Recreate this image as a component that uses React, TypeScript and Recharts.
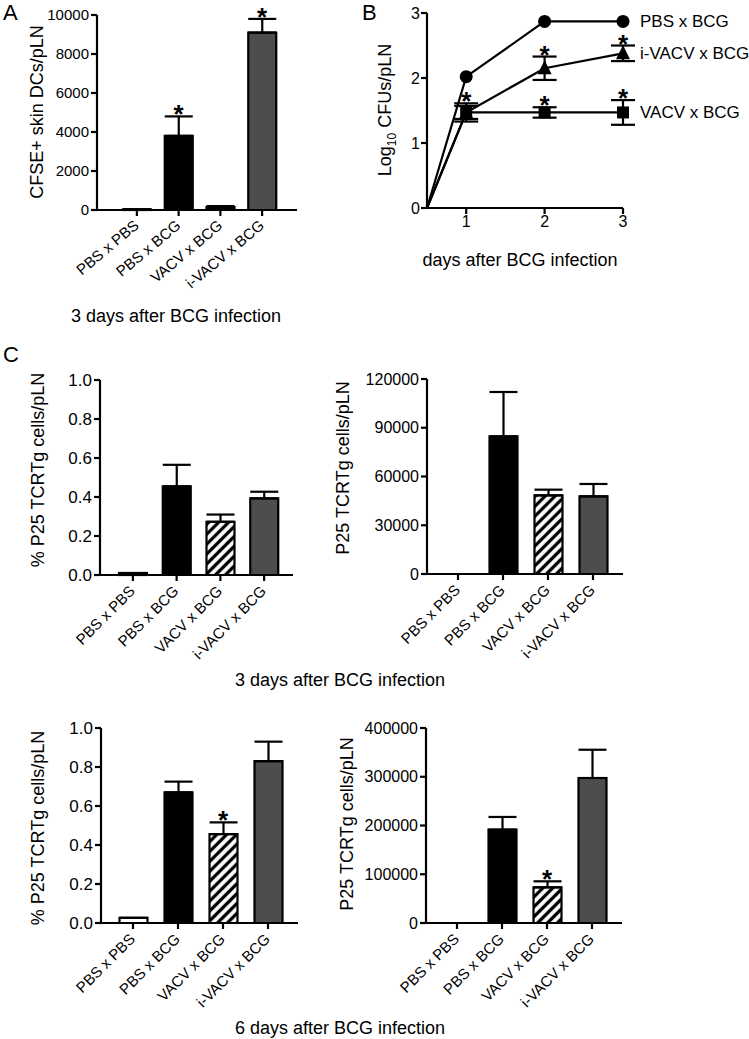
import React from 'react';
import { ComposedChart, Bar, Cell, Line, Scatter, XAxis, YAxis, ErrorBar } from 'recharts';

const FONT = '"Liberation Sans", Arial, Helvetica, sans-serif';

const groups = ['PBS x PBS', 'PBS x BCG', 'VACV x BCG', 'i-VACV x BCG'];

// A: CFSE+ skin DCs, 3 days
const dcMean = [30, 3800, 150, 9100];
const dcErr = [10, 1000, 50, 700];
const dcStar = [false, true, false, true];
const dcTicks = [0, 2000, 4000, 6000, 8000, 10000];

// B: CFUs over time
const days = [0.5, 1, 2, 3];
const pbsBcg = [0, 2.02, 2.87, 2.87];
const ivacvBcg = [0, 1.47, 2.15, 2.38];
const vacvBcg = [0, 1.47, 1.47, 1.47];
const ivacvErr = [null, 0.1, 0.18, 0.12];
const vacvErr = [null, 0.14, 0.08, 0.19];
const ivacvStar = [false, false, true, true];
const vacvStar = [false, true, true, true];
const cfuTicks = [0, 1, 2, 3];
const dayTicks = [1, 2, 3];
const lineNames = ['PBS x BCG', 'i-VACV x BCG', 'VACV x BCG'];

// C: P25 TCRTg, 3 days
const pct3Mean = [0.01, 0.455, 0.273, 0.393];
const pct3Err = [0, 0.11, 0.037, 0.034];
const abs3Mean = [0, 84700, 48400, 47800];
const abs3Err = [0, 27300, 3500, 7600];
// C: P25 TCRTg, 6 days
const pct6Mean = [0.026, 0.67, 0.456, 0.83];
const pct6Err = [0, 0.055, 0.06, 0.1];
const abs6Mean = [0, 191500, 73200, 297400];
const abs6Err = [0, 26000, 12300, 58000];
const star6 = [false, false, true, false];
const noStar = [false, false, false, false];

const pctTicks = [0, 0.2, 0.4, 0.6, 0.8, 1.0];
const abs3Ticks = [0, 30000, 60000, 90000, 120000];
const abs6Ticks = [0, 100000, 200000, 300000, 400000];

const GREY = '#4d4d4d';
const fillsA = ['#fff', '#000', '#000', GREY];
const fillsC = ['#fff', '#000', 'hatch', GREY];

const axisStyle = { stroke: '#000', strokeWidth: 2.2 };

const makeRotTick = (angle: number) => (p: any) => {
  const x = p.x + 3;
  const y = p.y + 9;
  return (
    <text x={x} y={y} transform={`rotate(${angle} ${x} ${y})`} textAnchor="end" fontSize={15} fill="#000" fontFamily={FONT}>
      {p.payload.value}
    </text>
  );
};
const RotTickA = makeRotTick(-40);
const RotTickC = makeRotTick(-45);

const StarShape = (p: any) =>
  p.payload && p.payload.star ? (
    <text x={p.cx} y={p.cy + 7} textAnchor="middle" fontSize={26} fontWeight="bold" fill="#000" fontFamily={FONT}>
      *
    </text>
  ) : (
    <g />
  );

function BarPanel(props: any) {
  const { id, mean, err, star, ticks, fills, left, top, width, height, plotLeft, plotTop, plotRight, plotBottom, pad, fmt, tickFont, Tick } =
    props;
  const data = groups.map((name, i) => ({
    name,
    mean: mean[i],
    err: [0, err[i]],
    starY: mean[i] + err[i],
    star: star[i],
  }));
  return (
    <div style={{ position: 'absolute', left, top }}>
      <ComposedChart
        width={width}
        height={height}
        data={data}
        margin={{ top: plotTop, right: width - plotRight, bottom: 0, left: 0 }}
      >
        <defs>
          <pattern id={id} width="7" height="7" patternUnits="userSpaceOnUse" patternTransform="rotate(45)">
            <rect width="7" height="7" fill="#fff" />
            <line x1="3.5" y1="0" x2="3.5" y2="7" stroke="#000" strokeWidth="3.3" />
          </pattern>
        </defs>
        <XAxis
          dataKey="name"
          type="category"
          interval={0}
          height={height - plotBottom}
          padding={pad}
          axisLine={axisStyle}
          tickLine={axisStyle}
          tickSize={6}
          tick={<Tick />}
        />
        <YAxis
          width={plotLeft}
          domain={[ticks[0], ticks[ticks.length - 1]]}
          ticks={ticks}
          interval={0}
          axisLine={axisStyle}
          tickLine={axisStyle}
          tickSize={6}
          tickMargin={2}
          tick={{ fill: '#000', fontSize: tickFont, fontFamily: FONT }}
          tickFormatter={fmt}
        />
        <Bar dataKey="mean" barSize={28} stroke="#000" strokeWidth={2.2} isAnimationActive={false}>
          {data.map((d, i) => (
            <Cell key={d.name} fill={fills[i] === 'hatch' ? `url(#${id})` : fills[i]} />
          ))}
          <ErrorBar dataKey="err" direction="y" width={14} stroke="#000" strokeWidth={2.2} />
        </Bar>
        <Scatter dataKey="starY" shape={StarShape} isAnimationActive={false} />
      </ComposedChart>
    </div>
  );
}

const circleDot = (p: any) =>
  p.index === 0 ? <g key={`c${p.index}`} /> : <circle key={`c${p.index}`} cx={p.cx} cy={p.cy} r={6.5} fill="#000" />;
const triDot = (p: any) =>
  p.index === 0 ? (
    <g key={`t${p.index}`} />
  ) : (
    <polygon key={`t${p.index}`} points={`${p.cx},${p.cy - 8} ${p.cx - 7},${p.cy + 6} ${p.cx + 7},${p.cy + 6}`} fill="#000" />
  );
const sqDot = (p: any) =>
  p.index === 0 ? <g key={`s${p.index}`} /> : <rect key={`s${p.index}`} x={p.cx - 6} y={p.cy - 6} width={12} height={12} fill="#000" />;

const NameShape = (p: any) => (
  <text x={p.cx + 17} y={p.cy} dominantBaseline="central" fontSize={17} fill="#000" fontFamily={FONT}>
    {p.payload.name}
  </text>
);

function LinePanel() {
  const data = days.map((day, i) => ({
    day,
    pbs: pbsBcg[i],
    ivacv: ivacvBcg[i],
    vacv: vacvBcg[i],
    ivacvErr: ivacvErr[i],
    vacvErr: vacvErr[i],
  }));
  const stars = [
    ...data.filter((d, i) => ivacvStar[i]).map((d) => ({ day: d.day, y: d.ivacv + (d.ivacvErr || 0), star: true })),
    ...data.filter((d, i) => vacvStar[i]).map((d) => ({ day: d.day, y: d.vacv + (d.vacvErr || 0), star: true })),
  ];
  const last = data[data.length - 1];
  const names = [
    { day: last.day, y: last.pbs, name: lineNames[0] },
    { day: last.day, y: last.ivacv, name: lineNames[1] },
    { day: last.day, y: last.vacv, name: lineNames[2] },
  ];
  return (
    <div style={{ position: 'absolute', left: 370, top: 0 }}>
      <ComposedChart width={379} height={280} data={data} margin={{ top: 13, right: 126, bottom: 0, left: 0 }}>
        <XAxis
          dataKey="day"
          type="number"
          domain={[0.5, 3]}
          ticks={dayTicks}
          height={72}
          axisLine={axisStyle}
          tickLine={axisStyle}
          tickSize={6}
          tickMargin={2}
          tick={{ fill: '#000', fontSize: 16, fontFamily: FONT }}
        />
        <YAxis
          width={57}
          domain={[0, 3]}
          ticks={cfuTicks}
          axisLine={axisStyle}
          tickLine={axisStyle}
          tickSize={6}
          tickMargin={1}
          tick={{ fill: '#000', fontSize: 16, fontFamily: FONT }}
        />
        <Line dataKey="pbs" type="linear" stroke="#000" strokeWidth={2.2} dot={circleDot} isAnimationActive={false} />
        <Line dataKey="ivacv" type="linear" stroke="#000" strokeWidth={2.2} dot={triDot} isAnimationActive={false}>
          <ErrorBar dataKey="ivacvErr" direction="y" width={12} stroke="#000" strokeWidth={2.2} />
        </Line>
        <Line dataKey="vacv" type="linear" stroke="#000" strokeWidth={2.2} dot={sqDot} isAnimationActive={false}>
          <ErrorBar dataKey="vacvErr" direction="y" width={12} stroke="#000" strokeWidth={2.2} />
        </Line>
        <Scatter data={stars} dataKey="y" shape={StarShape} isAnimationActive={false} />
        <Scatter data={names} dataKey="y" shape={NameShape} isAnimationActive={false} />
      </ComposedChart>
    </div>
  );
}

const Txt = ({ x, y, rotate, size = 18, children }: any) => (
  <div
    style={{
      position: 'absolute',
      left: x,
      top: y,
      transform: `translate(-50%, -50%)${rotate ? ' rotate(-90deg)' : ''}`,
      fontSize: size,
      lineHeight: 1,
      whiteSpace: 'nowrap',
      color: '#000',
    }}
  >
    {children}
  </div>
);

const Letter = ({ x, y, children }: any) => (
  <div style={{ position: 'absolute', left: x, top: y, fontSize: 22, lineHeight: 1, color: '#000' }}>{children}</div>
);

const fmt1 = (v: number) => v.toFixed(1);
const fmt0 = (v: number) => String(v);

export default function App() {
  return (
    <div
      style={{
        position: 'absolute',
        left: 0,
        top: 0,
        width: 749,
        height: 1039,
        background: '#fff',
        fontFamily: FONT,
        overflow: 'hidden',
      }}
    >
      <BarPanel
        id="hA"
        mean={dcMean}
        err={dcErr}
        star={dcStar}
        ticks={dcTicks}
        fills={fillsA}
        left={0}
        top={0}
        width={380}
        height={330}
        plotLeft={97}
        plotTop={15}
        plotRight={297}
        plotBottom={210}
        pad={{ left: 19, right: 14 }}
        fmt={fmt0}
        tickFont={15}
        Tick={RotTickA}
      />
      <LinePanel />
      <BarPanel
        id="hC1"
        mean={pct3Mean}
        err={pct3Err}
        star={noStar}
        ticks={pctTicks}
        fills={fillsC}
        left={0}
        top={340}
        width={380}
        height={330}
        plotLeft={100}
        plotTop={40}
        plotRight={293}
        plotBottom={235}
        pad={{ left: 11, right: 7 }}
        fmt={fmt1}
        tickFont={17}
        Tick={RotTickC}
      />
      <BarPanel
        id="hC2"
        mean={abs3Mean}
        err={abs3Err}
        star={noStar}
        ticks={abs3Ticks}
        fills={fillsC}
        left={330}
        top={340}
        width={419}
        height={330}
        plotLeft={97}
        plotTop={39}
        plotRight={293}
        plotBottom={234}
        pad={{ left: 8.5, right: 7.5 }}
        fmt={fmt0}
        tickFont={16}
        Tick={RotTickC}
      />
      <BarPanel
        id="hC3"
        mean={pct6Mean}
        err={pct6Err}
        star={star6}
        ticks={pctTicks}
        fills={fillsC}
        left={0}
        top={690}
        width={380}
        height={330}
        plotLeft={101}
        plotTop={38}
        plotRight={298}
        plotBottom={233}
        pad={{ left: 9.5, right: 7.5 }}
        fmt={fmt1}
        tickFont={17}
        Tick={RotTickC}
      />
      <BarPanel
        id="hC4"
        mean={abs6Mean}
        err={abs6Err}
        star={star6}
        ticks={abs6Ticks}
        fills={fillsC}
        left={330}
        top={690}
        width={419}
        height={330}
        plotLeft={96}
        plotTop={38}
        plotRight={292}
        plotBottom={233}
        pad={{ left: 8.5, right: 7.5 }}
        fmt={fmt0}
        tickFont={16}
        Tick={RotTickC}
      />

      <Letter x={3} y={2}>A</Letter>
      <Letter x={362} y={2}>B</Letter>
      <Letter x={3} y={344}>C</Letter>

      <Txt x={37} y={112} rotate>CFSE+ skin DCs/pLN</Txt>
      <Txt x={387} y={110} rotate>
        Log<sub style={{ fontSize: 12 }}>10</sub> CFUs/pLN
      </Txt>
      <Txt x={38} y={470} rotate>% P25 TCRTg cells/pLN</Txt>
      <Txt x={343} y={468} rotate>P25 TCRTg cells/pLN</Txt>
      <Txt x={38} y={828} rotate>% P25 TCRTg cells/pLN</Txt>
      <Txt x={347} y={824} rotate>P25 TCRTg cells/pLN</Txt>

      <Txt x={176} y={316}>3 days after BCG infection</Txt>
      <Txt x={520} y={260}>days after BCG infection</Txt>
      <Txt x={340} y={680}>3 days after BCG infection</Txt>
      <Txt x={340} y={1028}>6 days after BCG infection</Txt>
    </div>
  );
}
